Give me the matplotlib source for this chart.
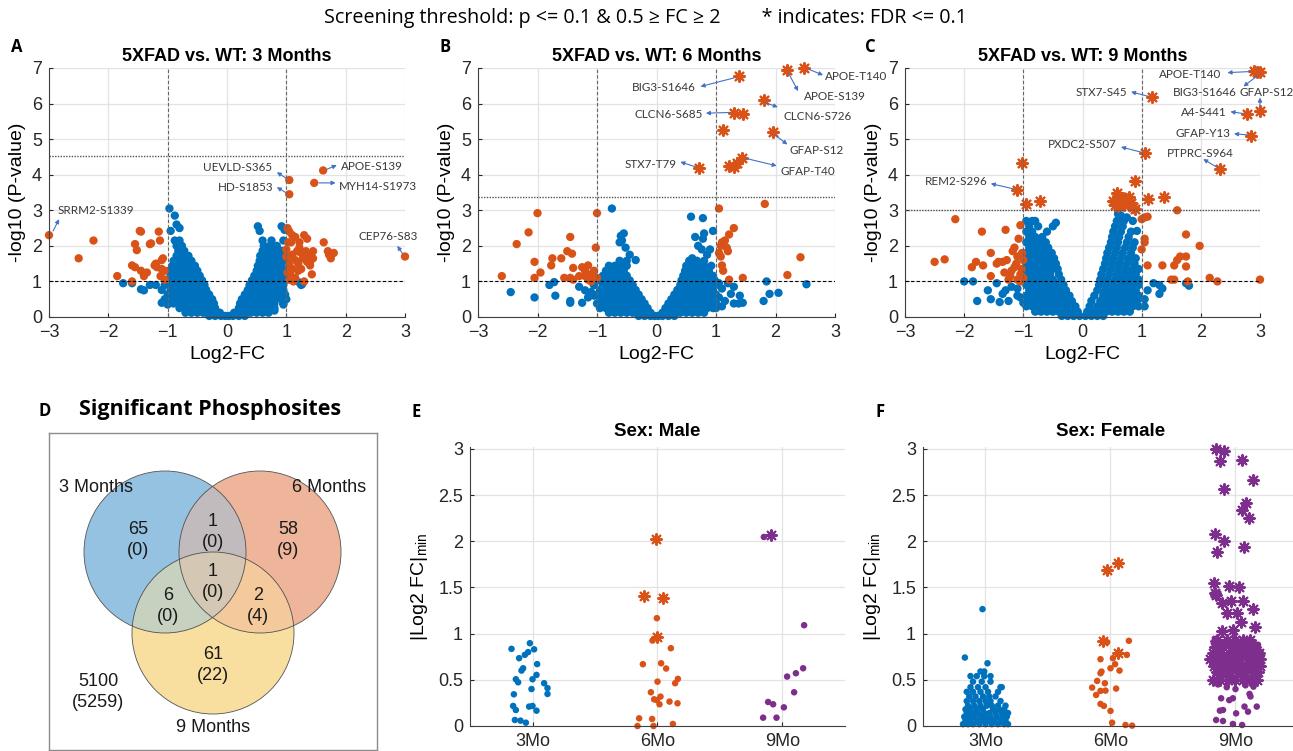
import numpy as np
import matplotlib
matplotlib.use('Agg')
import matplotlib.pyplot as plt
from matplotlib.patches import Circle
from matplotlib.ticker import FormatStrFormatter

plt.rcParams['font.family'] = ['Liberation Sans', 'DejaVu Sans']
plt.rcParams['mathtext.fontset'] = 'custom'
plt.rcParams['mathtext.rm'] = 'Liberation Sans'
plt.rcParams['mathtext.it'] = 'Liberation Sans:italic'

BLUE = '#0072BD'
ORANGE = '#D95319'
PURPLE = '#7E2F8E'
ASTER = (8, 2, 0)

# ---------------- DATA ----------------
# Panel A (3 months): blue (non-significant) rows (y, [x...]) and extras
a_blue_rows = [
    (0.03, [-0.3, -0.2, -0.1, -0.03, 0.03, 0.1, 0.2, 0.3]),
    (0.12, [-0.7, -0.6, -0.5, -0.4, -0.3, -0.2, -0.12, 0.12, 0.2, 0.3, 0.4, 0.5, 0.6, 0.7]),
    (0.25, [-0.8, -0.7, -0.6, -0.5, -0.4, -0.3, -0.2, 0.2, 0.3, 0.4, 0.5, 0.6, 0.7, 0.8]),
    (0.38, [-0.9, -0.8, -0.7, -0.6, -0.5, -0.4, -0.3, -0.22, 0.22, 0.3, 0.4, 0.5, 0.6, 0.7, 0.8, 0.95]),
    (0.5, [-1.05, -0.92, -0.82, -0.72, -0.62, -0.52, -0.42, -0.32, -0.25, 0.25, 0.32, 0.42, 0.52, 0.62, 0.72, 0.82, 0.92, 1.0]),
    (0.63, [-1.0, -0.9, -0.8, -0.7, -0.6, -0.5, -0.4, -0.3, 0.3, 0.4, 0.5, 0.6, 0.7, 0.8, 0.9, 0.98]),
    (0.76, [-1.1, -0.95, -0.85, -0.75, -0.65, -0.55, -0.45, -0.35, 0.35, 0.45, 0.55, 0.65, 0.75, 0.85, 0.95]),
    (0.9, [-1.3, -1.2, -1.05, -0.95, -0.85, -0.75, -0.65, -0.55, -0.45, -0.38, 0.38, 0.45, 0.55, 0.65, 0.75, 0.85, 0.95, 1.25]),
    (1.03, [-1.0, -0.9, -0.8, -0.7, -0.6, -0.5, -0.42, 0.42, 0.5, 0.6, 0.7, 0.8, 0.9, 0.98]),
    (1.16, [-0.95, -0.85, -0.75, -0.65, -0.55, -0.46, 0.46, 0.55, 0.65, 0.75, 0.85, 0.95]),
    (1.3, [-0.98, -0.88, -0.78, -0.68, -0.58, -0.5, 0.5, 0.58, 0.68, 0.78, 0.88, 0.97]),
    (1.44, [-0.92, -0.82, -0.72, -0.62, -0.54, 0.52, 0.62, 0.72, 0.82, 0.92]),
    (1.58, [-0.9, -0.8, -0.7, -0.6, 0.55, 0.65, 0.75, 0.85, 0.95]),
    (1.72, [-0.85, -0.75, -0.65, 0.56, 0.66, 0.76, 0.88]),
    (1.86, [-0.82, -0.72, 0.6, 0.7, 0.8, 0.92]),
    (2.0, [-0.85, -0.76, 0.62, 0.72, 0.84]),
    (2.15, [-0.88, -0.8, 0.6, 0.75, 0.95]),
]
a_blue_extra = [(-0.97, 3.05), (-0.88, 2.85), (-0.85, 2.6), (-0.8, 2.5), (-0.95, 2.42), (0.52, 2.55),
                (0.55, 2.42), (0.92, 2.55), (0.97, 2.45), (-1.75, 0.95), (-1.6, 0.95), (-1.45, 0.78),
                (-1.4, 0.75), (-1.1, 0.4), (-1.0, 0.35), (1.22, 0.97), (1.27, 0.93), (0.8, 0.18), (0.95, 0.35)]
a_orange = [(-3.0, 2.3), (-2.5, 1.65), (-2.25, 2.15), (-1.85, 1.15), (-1.6, 1.0), (-1.6, 1.45), (-1.55, 1.4),
            (-1.55, 2.05), (-1.52, 1.88), (-1.47, 2.42), (-1.45, 2.4), (-1.45, 1.3), (-1.4, 1.15), (-1.35, 1.25),
            (-1.3, 2.05), (-1.28, 2.07), (-1.22, 1.45), (-1.18, 1.4), (-1.15, 2.4), (-1.13, 2.15), (-1.12, 1.15),
            (-1.1, 1.6), (-1.08, 1.65), (-1.05, 1.3), (-1.05, 1.05), (-1.1, 1.35), (-1.2, 1.5),
            (1.05, 3.85), (1.05, 3.45), (1.62, 4.12), (1.47, 3.77), (3.0, 1.7),
            (1.02, 2.5), (1.05, 2.4), (1.1, 2.3), (1.08, 2.1), (1.03, 2.1), (1.15, 2.25), (1.3, 2.3), (1.35, 2.2),
            (1.22, 2.1), (1.33, 1.85), (1.25, 1.8), (1.18, 1.85), (1.1, 1.75), (1.05, 1.6), (1.15, 1.6), (1.2, 1.5),
            (1.28, 1.65), (1.37, 1.7), (1.4, 1.55), (1.4, 1.45), (1.05, 1.45), (1.1, 1.35), (1.02, 1.25),
            (1.08, 1.15), (1.05, 1.05), (1.15, 1.1), (1.2, 1.3), (1.25, 1.35), (1.45, 1.85), (1.45, 1.65),
            (1.43, 1.2), (1.63, 2.1), (1.7, 1.85), (1.72, 1.75), (1.75, 1.65), (1.8, 1.8), (1.12, 1.0),
            (1.3, 1.0), (1.0, 1.9), (1.0, 1.7), (1.35, 1.55), (1.22, 1.95)]
a_star = []
a_threshold = 4.52

# Panel B (6 months)
b_blue_rows = [
    (0.03, [-0.3, -0.2, -0.1, -0.03, 0.03, 0.1, 0.2, 0.3]),
    (0.12, [-0.8, -0.7, -0.6, -0.5, -0.4, -0.3, -0.2, -0.1, 0.1, 0.2, 0.3, 0.4, 0.5, 0.6, 0.7, 0.8]),
    (0.25, [-0.95, -0.85, -0.75, -0.65, -0.55, -0.45, -0.35, -0.25, -0.15, 0.15, 0.25, 0.35, 0.45, 0.55, 0.65, 0.75, 0.85, 0.95]),
    (0.38, [-1.0, -0.9, -0.8, -0.7, -0.6, -0.5, -0.4, -0.3, -0.2, 0.2, 0.3, 0.4, 0.5, 0.6, 0.7, 0.8, 0.9, 1.0]),
    (0.5, [-0.95, -0.85, -0.75, -0.65, -0.55, -0.45, -0.35, -0.25, 0.25, 0.35, 0.45, 0.55, 0.65, 0.75, 0.85, 0.95]),
    (0.63, [-1.0, -0.9, -0.8, -0.7, -0.6, -0.5, -0.4, -0.3, 0.3, 0.4, 0.5, 0.6, 0.7, 0.8, 0.9, 1.0]),
    (0.76, [-0.95, -0.85, -0.75, -0.65, -0.55, -0.45, -0.35, 0.35, 0.45, 0.55, 0.65, 0.75, 0.85, 0.95]),
    (0.9, [-1.05, -0.9, -0.8, -0.7, -0.6, -0.5, -0.4, 0.4, 0.5, 0.6, 0.7, 0.8, 0.9, 1.0]),
    (1.03, [-0.95, -0.85, -0.75, -0.65, -0.55, -0.45, 0.42, 0.5, 0.6, 0.7, 0.8, 0.9, 0.98]),
    (1.16, [-0.9, -0.8, -0.7, -0.6, -0.5, 0.45, 0.55, 0.65, 0.75, 0.85, 0.95]),
    (1.3, [-0.85, -0.75, -0.65, -0.55, 0.48, 0.58, 0.68, 0.78, 0.88]),
    (1.44, [-0.8, -0.7, -0.6, -0.5, 0.5, 0.6, 0.7, 0.8, 0.92]),
    (1.58, [-0.62, -0.5, 0.55, 0.68, 0.8]),
]
b_blue_extra = [(-0.75, 3.05), (-0.55, 2.35), (-0.6, 2.28), (-0.58, 2.15), (-0.62, 2.1), (-0.52, 1.95),
                (-0.45, 1.75), (-0.35, 1.6), (0.58, 2.82), (0.78, 2.78), (0.95, 2.42), (0.65, 2.25), (0.8, 2.35),
                (0.78, 2.2), (0.7, 2.0), (0.76, 1.9), (0.9, 1.9), (0.6, 1.65), (0.85, 1.75), (-2.45, 0.7),
                (-2.05, 0.55), (-1.8, 0.9), (-1.72, 0.98), (-1.7, 0.6), (-1.45, 0.45), (-1.45, 0.4), (-1.3, 0.85),
                (-1.2, 0.75), (-1.25, 0.4), (-1.1, 0.7), (-1.05, 0.6), (-1.05, 0.9), (-1.15, 0.55), (1.85, 1.0),
                (2.52, 0.92), (1.9, 0.65), (2.05, 0.68), (1.8, 0.45), (1.2, 0.95), (1.3, 0.85), (1.4, 0.6),
                (1.45, 0.4), (1.38, 0.38), (1.3, 0.38), (1.1, 0.3), (1.25, 0.65), (1.15, 0.45), (1.05, 0.55),
                (1.0, 0.25), (1.1, 0.8), (1.05, 0.95)]
b_orange = [(-2.6, 1.15), (-2.35, 2.05), (-2.15, 2.38), (-2.0, 2.92), (-2.05, 1.55), (-1.95, 1.25), (-2.05, 1.1),
            (-1.75, 1.65), (-1.77, 1.45), (-1.6, 1.65), (-1.55, 1.1), (-1.5, 1.85), (-1.45, 2.25), (-1.42, 1.78),
            (-1.4, 1.38), (-1.45, 1.1), (-1.4, 1.05), (-1.25, 1.4), (-1.2, 1.3), (-1.15, 1.45), (-1.1, 1.2),
            (-1.05, 1.3), (-1.0, 1.1), (-1.2, 1.15), (-1.1, 1.0), (-1.02, 1.95), (-1.0, 2.92), (-1.3, 1.15),
            (-1.15, 1.05), (-1.05, 1.15),
            (1.05, 3.05), (1.82, 3.18), (1.3, 2.5), (1.22, 2.32), (1.15, 2.15), (1.1, 2.1), (1.08, 2.0),
            (1.18, 1.95), (1.2, 1.85), (1.08, 1.7), (1.1, 1.45), (1.12, 1.3), (1.22, 1.05), (1.45, 1.1),
            (2.42, 1.68), (2.2, 1.18), (1.05, 1.8)]
b_star = [(1.38, 6.78), (2.2, 6.95), (2.48, 7.0), (1.8, 6.1), (1.3, 5.73), (1.46, 5.7), (1.12, 5.25),
          (1.95, 5.2), (0.72, 4.2), (1.22, 4.25), (1.3, 4.22), (1.35, 4.32), (1.44, 4.48)]
b_threshold = 3.37

# Panel C (9 months)
c_blue_rows = [
    (0.03, [-0.35, -0.25, -0.15, -0.05, 0.05, 0.15, 0.25, 0.35]),
    (0.15, [-0.8, -0.7, -0.6, -0.5, -0.4, -0.3, -0.2, -0.08, 0.08, 0.2, 0.3, 0.4, 0.5, 0.6, 0.7, 0.8]),
    (0.3, [-0.95, -0.85, -0.75, -0.65, -0.55, -0.45, -0.35, -0.25, -0.12, 0.12, 0.25, 0.35, 0.45, 0.55, 0.65, 0.75, 0.85, 0.95]),
    (0.45, [-0.9, -0.8, -0.7, -0.6, -0.5, -0.4, -0.3, -0.18, 0.15, 0.3, 0.4, 0.5, 0.6, 0.7, 0.8, 0.92]),
    (0.6, [-0.95, -0.85, -0.75, -0.65, -0.55, -0.45, -0.35, -0.22, 0.2, 0.35, 0.45, 0.55, 0.65, 0.75, 0.85, 0.95]),
    (0.75, [-0.9, -0.8, -0.7, -0.6, -0.5, -0.4, -0.28, 0.25, 0.38, 0.5, 0.6, 0.7, 0.8, 0.9]),
    (0.9, [-0.95, -0.85, -0.75, -0.65, -0.55, -0.45, -0.32, 0.28, 0.4, 0.52, 0.65, 0.75, 0.85, 0.95]),
    (1.05, [-0.9, -0.8, -0.7, -0.6, -0.5, -0.36, 0.3, 0.42, 0.55, 0.65, 0.75, 0.85, 0.95]),
    (1.2, [-0.95, -0.85, -0.75, -0.65, -0.55, -0.4, 0.32, 0.45, 0.58, 0.7, 0.8, 0.9]),
    (1.35, [-0.92, -0.82, -0.72, -0.62, -0.5, -0.42, 0.35, 0.48, 0.6, 0.72, 0.85, 0.95]),
    (1.5, [-0.95, -0.85, -0.75, -0.65, -0.55, -0.45, 0.38, 0.5, 0.62, 0.75, 0.88]),
    (1.65, [-0.9, -0.8, -0.7, -0.6, -0.48, 0.4, 0.52, 0.65, 0.78, 0.9]),
    (1.8, [-0.95, -0.85, -0.75, -0.65, -0.52, 0.42, 0.55, 0.68, 0.82]),
    (1.95, [-0.9, -0.8, -0.7, -0.58, 0.45, 0.58, 0.72, 0.85]),
    (2.1, [-0.95, -0.85, -0.75, -0.62, 0.48, 0.6, 0.75, 0.88]),
    (2.25, [-0.9, -0.8, -0.68, 0.5, 0.62, 0.78]),
    (2.4, [-0.95, -0.85, -0.6, 0.52, 0.65, 0.82]),
    (2.55, [-0.9, -0.75, -0.5, 0.55, 0.68]),
    (2.7, [-0.95, -0.85, -0.8, 0.58, 0.7, 0.85]),
]
c_blue_extra = [(-0.45, 2.65), (0.6, 2.9), (0.65, 2.85), (0.75, 2.8), (0.92, 2.42), (-2.0, 1.0), (-1.85, 1.0),
                (-1.78, 0.45), (-1.6, 0.75), (-1.55, 0.5), (-1.45, 0.95), (-1.35, 0.65), (-1.4, 0.42),
                (-1.25, 0.45), (-1.3, 0.75), (-1.2, 0.85), (-1.1, 0.6), (-1.05, 0.55), (-1.0, 0.4), (-1.1, 0.8),
                (1.05, 0.5), (1.05, 0.3), (1.1, 0.75), (1.2, 0.95), (1.3, 0.9), (1.3, 0.65), (1.35, 0.8),
                (1.75, 0.95), (1.8, 0.88)]
c_orange = [(-2.5, 1.55), (-2.33, 1.62), (-2.15, 2.75), (-1.87, 1.4), (-1.8, 1.55), (-1.7, 2.4), (-1.68, 1.45),
            (-1.55, 1.8), (-1.55, 1.15), (-1.45, 1.5), (-1.42, 1.55), (-1.35, 1.55), (-1.32, 1.25), (-1.3, 2.45),
            (-1.28, 1.6), (-1.25, 1.05), (-1.2, 1.3), (-1.18, 1.85), (-1.15, 1.95), (-1.12, 1.5), (-1.1, 1.7),
            (-1.08, 2.2), (-1.05, 1.2), (-1.05, 2.58), (-1.02, 1.8), (-1.03, 1.35), (-1.0, 1.6), (-1.15, 1.4),
            (-1.1, 1.05), (-1.05, 1.0), (-1.22, 1.15), (-1.0, 1.1),
            (1.6, 3.0), (1.0, 2.75), (1.05, 2.8), (1.1, 2.82), (1.05, 2.2), (1.05, 2.1), (1.0, 1.9), (1.1, 1.45),
            (1.35, 1.45), (1.5, 1.05), (1.55, 1.05), (1.55, 1.45), (1.6, 1.6), (1.65, 1.7), (1.75, 2.32),
            (1.75, 1.7), (1.75, 1.42), (1.78, 1.0), (1.98, 2.0), (2.15, 1.1), (2.28, 1.0), (3.0, 1.05)]
c_star = [(2.9, 6.92), (2.95, 6.9), (3.0, 6.88), (3.0, 5.8), (2.78, 5.7), (2.85, 5.1), (1.18, 6.18),
          (1.05, 4.6), (2.33, 4.17), (-1.02, 4.32), (-1.1, 3.57), (-0.95, 3.17), (-0.72, 3.25),
          (0.88, 3.82), (1.1, 3.32), (1.38, 3.37), (0.52, 3.25), (0.58, 3.48), (0.62, 3.3), (0.65, 3.2),
          (0.7, 3.15), (0.75, 3.3), (0.78, 3.38), (0.82, 3.2), (0.85, 3.1), (0.55, 3.15), (0.68, 3.35),
          (0.6, 3.12), (0.72, 3.25), (0.88, 3.05)]
c_threshold = 3.02

# Venn (panel D)
venn_sets = ['3 Months', '6 Months', '9 Months']
venn_region_names = ['3', '6', '9', '3&6', '3&9', '6&9', '3&6&9', 'none']
venn_counts = [65, 58, 61, 1, 6, 2, 1, 5100]
venn_fdr_counts = [0, 9, 22, 0, 0, 4, 0, 5259]

# Panels E/F: |Log2 FC|min per age group (x = group position with jitter)
groups = ['3Mo', '6Mo', '9Mo']
e_blue = [(0.832, 0.835), (0.979, 0.896), (0.893, 0.734), (0.939, 0.77), (0.965, 0.80), (1.013, 0.83),
          (1.037, 0.67), (0.925, 0.625), (0.912, 0.60), (0.867, 0.506), (0.885, 0.473), (1.032, 0.553),
          (1.0, 0.506), (1.093, 0.463), (1.12, 0.41), (1.12, 0.347), (0.992, 0.40), (0.851, 0.343),
          (0.845, 0.217), (0.867, 0.173), (0.973, 0.21), (1.0, 0.217), (1.032, 0.166), (0.859, 0.065),
          (0.904, 0.058), (0.947, 0.036)]
e_orange = [(1.995, 1.167), (1.96, 0.925), (2.107, 0.842), (1.883, 0.669), (2.029, 0.679), (2.069, 0.622),
            (2.163, 0.51), (2.141, 0.463), (2.0, 0.48), (1.947, 0.365), (1.973, 0.289), (2.024, 0.318),
            (2.016, 0.235), (2.096, 0.264), (2.16, 0.246), (1.853, 0.083), (1.957, 0.076), (1.84, 0.0),
            (1.968, 0.0), (2.123, 0.022), (1.995, 0.28)]
e_orange_star = [(1.989, 2.024), (1.896, 1.402), (2.048, 1.384), (2.0, 0.961)]
e_purple = [(2.851, 2.046), (3.173, 1.091), (3.165, 0.625), (3.107, 0.571), (3.037, 0.535), (3.093, 0.365),
            (2.885, 0.26), (2.925, 0.235), (3.011, 0.202), (2.845, 0.09), (2.952, 0.09)]
e_purple_star = [(2.912, 2.071)]

f_blue_rows = [
    (0.02, [0.82, 0.86, 0.9, 0.95, 1.0, 1.05, 1.1, 1.15, 1.18]),
    (0.06, [0.84, 0.88, 0.93, 0.97, 1.02, 1.07, 1.12, 1.16]),
    (0.1, [0.83, 0.87, 0.91, 0.96, 1.0, 1.04, 1.09, 1.14, 1.17]),
    (0.14, [0.85, 0.9, 0.94, 0.99, 1.03, 1.08, 1.13, 1.18]),
    (0.18, [0.84, 0.88, 0.93, 0.98, 1.06, 1.11, 1.15]),
    (0.22, [0.86, 0.91, 0.96, 1.01, 1.05, 1.1, 1.16]),
    (0.27, [0.85, 0.9, 0.95, 1.0, 1.04, 1.12]),
    (0.32, [0.87, 0.92, 0.98, 1.03, 1.08]),
    (0.37, [0.85, 0.9, 0.96, 1.02, 1.1]),
    (0.42, [0.88, 0.94, 1.0, 1.12, 1.13]),
    (0.48, [0.9, 0.97, 1.04]),
    (0.54, [0.88, 0.93, 0.99, 1.04]),
    (0.59, [0.96, 0.99]),
]
f_blue_extra = [(0.835, 0.741), (1.016, 0.679), (0.976, 1.265)]
f_orange = [(1.973, 0.907), (2.147, 0.922), (1.92, 0.723), (2.131, 0.77), (2.019, 0.734), (2.037, 0.669),
            (2.0, 0.625), (2.072, 0.6), (1.928, 0.589), (1.92, 0.571), (1.893, 0.488), (1.955, 0.463),
            (1.853, 0.416), (2.045, 0.405), (1.92, 0.38), (1.885, 0.336), (1.96, 0.383), (1.92, 0.239),
            (1.947, 0.217), (2.0, 0.163), (2.013, 0.036), (2.12, 0.011), (2.173, 0.004)]
f_orange_star = [(1.973, 1.691), (2.064, 1.764), (1.941, 0.925), (2.064, 0.788)]
f_purple = [(2.885, 0.3), (2.979, 0.3), (3.112, 0.347), (2.875, 0.166), (2.9, 0.173), (3.005, 0.137),
            (3.072, 0.21), (3.17, 0.21), (3.1, 0.155), (2.845, 0.065), (2.9, 0.054), (2.979, 0.022),
            (3.053, 0.011), (3.144, 0.426), (3.133, 0.463), (2.86, 0.45), (2.93, 0.42), (3.0, 0.4),
            (3.08, 0.44), (3.15, 0.5), (2.95, 0.28), (3.12, 0.32), (3.2, 0.8), (3.18, 0.88), (3.13, 0.6)]
f_purple_star = [(2.845, 3.0), (2.912, 2.98), (2.88, 2.866), (3.053, 2.884), (3.139, 2.667), (2.907, 2.566),
                 (3.085, 2.414), (3.053, 2.342), (3.107, 2.252), (2.84, 2.082), (2.912, 1.999), (2.853, 1.879),
                 (3.072, 1.933), (2.827, 1.547), (2.952, 1.511), (3.032, 1.5), (2.84, 1.438), (2.845, 1.42),
                 (2.965, 1.348), (3.059, 1.348), (2.893, 1.33), (3.139, 1.265), (2.933, 1.222), (3.013, 1.222),
                 (3.045, 1.131), (3.16, 1.07), (2.979, 1.041), (2.893, 1.023), (2.845, 0.925)]
f_purple_star_rows = [
    (0.5, [2.82, 2.88, 2.94, 3.0, 3.06, 3.12, 3.17]),
    (0.58, [2.85, 2.9, 2.96, 3.02, 3.08, 3.14, 3.18]),
    (0.65, [2.83, 2.88, 2.94, 3.0, 3.05, 3.1, 3.16, 3.2]),
    (0.72, [2.8, 2.86, 2.92, 2.98, 3.04, 3.1, 3.15, 3.2]),
    (0.79, [2.82, 2.88, 2.95, 3.0, 3.07, 3.13, 3.19]),
    (0.86, [2.84, 2.9, 2.97, 3.03, 3.09, 3.16]),
    (0.93, [2.85, 2.93, 3.0, 3.06, 3.12]),
]


def rows_xy(rows, extra=()):
    xs, ys = [], []
    for y, xl in rows:
        xs += list(xl)
        ys += [y] * len(xl)
    for x, y in extra:
        xs.append(x)
        ys.append(y)
    return np.array(xs), np.array(ys)


def xy(pts):
    if len(pts) == 0:
        return np.array([]), np.array([])
    a = np.array(pts, dtype=float)
    return a[:, 0], a[:, 1]


# ---------------- FIGURE ----------------
W, H = 1293, 751
fig = plt.figure(figsize=(W / 100, H / 100), dpi=100)


def px_axes(left, top, right, bottom):
    return fig.add_axes([left / W, 1 - bottom / H, (right - left) / W, (bottom - top) / H])


AX_C = '#404040'
TICK_C = '#262626'
ANN_FONT = ['Lato', 'DejaVu Sans']
ANN_C = '#383838'
ARR_C = '#4472C4'


def style_axes(ax):
    for s in ['top', 'right']:
        ax.spines[s].set_visible(False)
    for s in ['left', 'bottom']:
        ax.spines[s].set_color(AX_C)
        ax.spines[s].set_linewidth(0.8)
    ax.tick_params(direction='in', length=3, width=0.8, labelsize=13, colors=TICK_C, pad=5)
    ax.grid(True, color='#e3e3e3', lw=0.9)
    ax.set_axisbelow(True)


def volcano(ax, rows, extra, orange, star, thr, title, anns):
    style_axes(ax)
    ax.set_xlim(-3, 3)
    ax.set_ylim(0, 7)
    ax.set_xticks(range(-3, 4))
    ax.set_yticks(range(0, 8))
    bx, by = rows_xy(rows, extra)
    ax.scatter(bx, by, s=36, color=BLUE, edgecolors='none', zorder=2, clip_on=False)
    ox, oy = xy(orange)
    ax.scatter(ox, oy, s=36, color=ORANGE, edgecolors='none', zorder=2.1, clip_on=False)
    if len(star):
        sx, sy = xy(star)
        ax.scatter(sx, sy, s=60, marker=ASTER, color=ORANGE, linewidths=1.6, zorder=2.2, clip_on=False)
    ax.axhline(thr, color='#555555', ls=(0, (1, 1)), lw=1.0, zorder=3)
    ax.axhline(1, color='black', ls=(0, (3, 2)), lw=0.8, zorder=3)
    for v in (-1, 1):
        ax.axvline(v, color='#666666', ls=(0, (3, 2)), lw=0.8, zorder=3)
    ax.set_title(title, fontsize=13, fontweight='bold', pad=5, color='black')
    ax.set_xlabel('Log2-FC', fontsize=14, labelpad=4)
    ax.set_ylabel('-log10 (P-value)', fontsize=14, labelpad=4)
    for text, tx, ty, ha, tail, head in anns:
        ax.text(tx, ty, text, ha=ha, va='center', fontsize=8.4, color=ANN_C, family=ANN_FONT, clip_on=False)
        ax.annotate('', xy=head, xytext=tail,
                    arrowprops=dict(arrowstyle='-|>', color=ARR_C, lw=0.8, mutation_scale=6,
                                    shrinkA=0, shrinkB=0))


a_anns = [
    ('SRRM2-S1339', -2.85, 2.98, 'left', (-2.93, 2.42), (-2.83, 2.75)),
    ('UEVLD-S365', 0.76, 4.19, 'right', (1.0, 3.9), (0.84, 4.07)),
    ('HD-S1853', 0.78, 3.65, 'right', (0.99, 3.5), (0.84, 3.65)),
    ('APOE-S139', 1.92, 4.24, 'left', (1.68, 4.15), (1.85, 4.27)),
    ('MYH14-S1973', 1.88, 3.68, 'left', (1.55, 3.77), (1.83, 3.77)),
    ('CEP76-S83', 2.22, 2.25, 'left', (2.96, 1.78), (2.87, 2.0)),
]
b_anns = [
    ('BIG3-S1646', 0.66, 6.46, 'right', (1.3, 6.72), (0.74, 6.48)),
    ('APOE-T140', 2.83, 6.77, 'left', (2.55, 6.97), (2.8, 6.8)),
    ('APOE-S139', 2.48, 6.21, 'left', (2.22, 6.85), (2.38, 6.35)),
    ('CLCN6-S726', 2.13, 5.65, 'left', (1.84, 6.02), (2.04, 5.9)),
    ('CLCN6-S685', 0.78, 5.7, 'right', (1.24, 5.75), (0.83, 5.73)),
    ('GFAP-S12', 2.23, 4.69, 'left', (1.99, 5.12), (2.2, 4.85)),
    ('STX7-T79', 0.34, 4.3, 'right', (0.66, 4.22), (0.4, 4.36)),
    ('GFAP-T40', 2.08, 4.1, 'left', (1.5, 4.46), (2.02, 4.25)),
]
c_anns = [
    ('APOE-T140', 2.35, 6.83, 'right', (2.84, 6.9), (2.45, 6.87)),
    ('BIG3-S1646', 2.61, 6.32, 'right', (2.97, 6.8), (2.72, 6.48)),
    ('GFAP-S12', 2.66, 6.32, 'left', (3.0, 5.92), (3.0, 6.17)),
    ('A4-S441', 2.43, 5.76, 'right', (2.72, 5.72), (2.5, 5.77)),
    ('GFAP-Y13', 2.5, 5.17, 'right', (2.79, 5.12), (2.56, 5.15)),
    ('STX7-S45', 0.76, 6.32, 'right', (1.12, 6.2), (0.82, 6.33)),
    ('PXDC2-S507', 0.58, 4.86, 'right', (1.0, 4.63), (0.65, 4.78)),
    ('PTPRC-S964', 2.55, 4.6, 'right', (2.28, 4.2), (2.04, 4.44)),
    ('REM2-S296', -1.6, 3.82, 'right', (-1.16, 3.6), (-1.55, 3.75)),
]

axA = px_axes(49, 68, 405, 317)
axB = px_axes(478, 68, 835, 317)
axC = px_axes(905, 68, 1260, 317)
volcano(axA, a_blue_rows, a_blue_extra, a_orange, a_star, a_threshold, '5XFAD vs. WT: 3 Months', a_anns)
volcano(axB, b_blue_rows, b_blue_extra, b_orange, b_star, b_threshold, '5XFAD vs. WT: 6 Months', b_anns)
volcano(axC, c_blue_rows, c_blue_extra, c_orange, c_star, c_threshold, '5XFAD vs. WT: 9 Months', c_anns)

# ---------------- Venn ----------------
axD = px_axes(49, 433, 377, 750)
axD.set_xticks([])
axD.set_yticks([])
for s in axD.spines.values():
    s.set_color('#8c8c8c')
    s.set_linewidth(1.0)
region_rgb = np.array([[149, 194, 226], [239, 181, 155], [249, 224, 160]], dtype=float) / 255.0
circ_centers = [(165, 552), (260, 552), (213, 633)]
R = 81
ss = 3
gx = np.arange(49, 377, 1.0 / ss) + 0.5 / ss
gy = np.arange(433, 750, 1.0 / ss) + 0.5 / ss
GX, GY = np.meshgrid(gx, gy)
inside = np.stack([(GX - cx) ** 2 + (GY - cy) ** 2 <= R ** 2 for cx, cy in circ_centers])
cnt = inside.sum(axis=0)
rgb = np.tensordot(inside.transpose(1, 2, 0).astype(float), region_rgb, axes=([2], [0]))
img = np.ones(GX.shape + (4,))
mask = cnt > 0
img[mask, :3] = rgb[mask] / cnt[mask][:, None]
img[~mask, 3] = 0.0
axD.imshow(img, extent=(49, 377, 750, 433), origin='upper', interpolation='antialiased', zorder=1)
axD.set_xlim(49, 377)
axD.set_ylim(750, 433)
axD.set_aspect('auto')
for (cx, cy) in circ_centers:
    axD.add_patch(Circle((cx, cy), R, facecolor='none', edgecolor='#505050', lw=0.6, zorder=2))
set_label_pos = [(96, 487), (329, 487), (213, 727)]
for name, (x, y) in zip(venn_sets, set_label_pos):
    axD.text(x, y, name, ha='center', va='center', fontsize=13, color='#1a1a1a', zorder=3)
region_pos = {'3': (138, 540), '6': (288, 540), '9': (213, 665), '3&6': (213, 532),
              '3&9': (168, 606), '6&9': (258, 606), '3&6&9': (213, 582), 'none': (98, 692)}
for name, c, f in zip(venn_region_names, venn_counts, venn_fdr_counts):
    x, y = region_pos[name]
    axD.text(x, y, f'{c}\n({f})', ha='center', va='center', fontsize=13, linespacing=1.35,
             color='#1a1a1a', zorder=3)


# ---------------- Strip plots ----------------
def strip(ax, title, blue, orange, orange_star, purple, purple_star):
    style_axes(ax)
    ax.set_xlim(0.5, 3.5)
    ax.set_ylim(0, 3.02)
    ax.set_xticks([1, 2, 3])
    ax.set_xticklabels(groups)
    ax.set_yticks(np.arange(0, 3.01, 0.5))
    ax.yaxis.set_major_formatter(FormatStrFormatter('%g'))
    for (x, y), c in ((blue, BLUE), (orange, ORANGE), (purple, PURPLE)):
        ax.scatter(x, y, s=22, color=c, edgecolors='none', zorder=2, clip_on=False)
    for (x, y), c in ((orange_star, ORANGE), (purple_star, PURPLE)):
        if len(x):
            ax.scatter(x, y, s=60, marker=ASTER, color=c, linewidths=1.5, zorder=2.2, clip_on=False)
    ax.set_title(title, fontsize=13.5, fontweight='bold', pad=8)
    ax.set_ylabel(r'|Log2 FC|$_{\mathrm{min}}$', fontsize=14, labelpad=6)


axE = px_axes(470, 447, 845, 726)
axF = px_axes(923, 447, 1298, 726)
strip(axE, 'Sex: Male', xy(e_blue), xy(e_orange), xy(e_orange_star), xy(e_purple), xy(e_purple_star))
fb = rows_xy(f_blue_rows, f_blue_extra)
fps = rows_xy(f_purple_star_rows, f_purple_star)
strip(axF, 'Sex: Female', fb, xy(f_orange), xy(f_orange_star), xy(f_purple), fps)

# ---------------- Texts ----------------
fig.text(646 / W, 1 - 18 / H,
         'Screening threshold: p <= 0.1 & 0.5 \u2265 FC \u2265 2        * indicates: FDR <= 0.1',
         ha='center', va='center', fontsize=14.2, family=['Open Sans', 'DejaVu Sans'])
for lab, x, y in [('A', 17, 47), ('B', 445, 47), ('C', 870, 47), ('D', 45, 411), ('E', 416, 412), ('F', 880, 412)]:
    fig.text(x / W, 1 - y / H, lab, ha='center', va='center', fontsize=12, fontweight='bold',
             family=['Open Sans', 'DejaVu Sans'])
fig.text(210 / W, 1 - 410 / H, 'Significant Phosphosites', ha='center', va='center', fontsize=15.5,
         fontweight='bold', family=['Open Sans', 'DejaVu Sans'])

fig.savefig('out.png', dpi=100)
